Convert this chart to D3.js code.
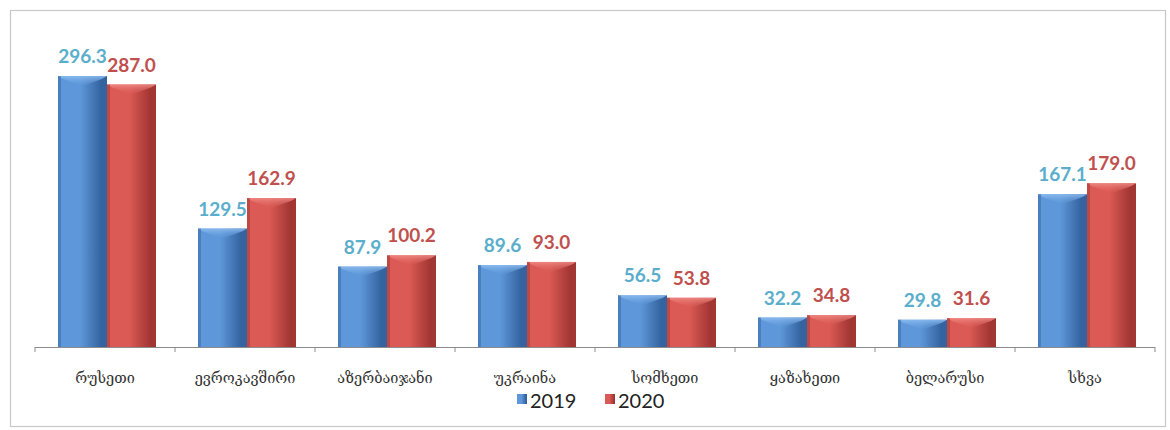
<!DOCTYPE html>
<html><head><meta charset="utf-8">
<script src="https://cdn.jsdelivr.net/npm/d3@7"></script>
<style>
html,body{margin:0;padding:0;background:#fff;}
svg{display:block;}
</style></head>
<body>
<svg id="chart" width="1170" height="430"></svg>
<script>
const categories = ["რუსეთი","ევროკავშირი","აზერბაიჯანი","უკრაინა","სომხეთი","ყაზახეთი","ბელარუსი","სხვა"];
const seriesNames = ["2019","2020"];
const values2019 = [296.3,129.5,87.9,89.6,56.5,32.2,29.8,167.1];
const values2020 = [287.0,162.9,100.2,93.0,53.8,34.8,31.6,179.0];

const W = 1170, H = 430;
const svg = d3.select("#chart");
const defs = svg.append("defs");

const palette = {
  "2019": {edge:"#3563a0", mid:"#5e98da", light:"#8dbdf0", label:"#5aaecb"},
  "2020": {edge:"#a23633", mid:"#dc5a55", light:"#f08a84", label:"#c0504d"}
};
seriesNames.forEach(s => {
  const g = defs.append("linearGradient").attr("id","g"+s).attr("x1","0").attr("x2","1").attr("y1","0").attr("y2","0");
  g.append("stop").attr("offset","0%").attr("stop-color",palette[s].mid);
  g.append("stop").attr("offset","45%").attr("stop-color",palette[s].mid);
  g.append("stop").attr("offset","88%").attr("stop-color",palette[s].edge);
  g.append("stop").attr("offset","100%").attr("stop-color",palette[s].edge);
  const v = defs.append("linearGradient").attr("id","v"+s).attr("x1","0").attr("x2","0").attr("y1","0").attr("y2","1");
  v.append("stop").attr("offset","0%").attr("stop-color",palette[s].light).attr("stop-opacity",0.9);
  v.append("stop").attr("offset","100%").attr("stop-color",palette[s].mid).attr("stop-opacity",0.2);
});

// frame
svg.append("rect").attr("x",10.5).attr("y",10.5).attr("width",1155).attr("height",416)
  .attr("fill","none").attr("stroke","#c8c8c8").attr("stroke-width",1.2);

const plotLeft = 35, plotRight = 1155, baseY = 347;
const x = d3.scaleBand().domain(categories).range([plotLeft+2, plotRight+2]).paddingInner(0.3).paddingOuter(0.15);
const xs = d3.scaleBand().domain(seriesNames).range([0, x.bandwidth()]);
const y = d3.scaleLinear().domain([0, 296.3]).range([baseY, 76]);

const data = categories.map((c,i)=>({cat:c, vals:[{s:"2019",v:values2019[i]},{s:"2020",v:values2020[i]}]}));

const groups = svg.append("g").selectAll("g").data(data).join("g")
  .attr("transform", d=>`translate(${x(d.cat)},0)`);

const bars = groups.selectAll("g.bar").data(d=>d.vals).join("g").attr("class","bar");
bars.append("rect")
  .attr("x", d=>xs(d.s)).attr("y", d=>y(d.v))
  .attr("width", xs.bandwidth()).attr("height", d=>baseY-y(d.v))
  .attr("fill", d=>`url(#g${d.s})`);
// top bevel
bars.append("path")
  .attr("d", d=>{
    const x0 = xs(d.s), w = xs.bandwidth(), t = y(d.v), b = Math.min(10, (baseY-t)/2);
    return `M${x0},${t} L${x0+w},${t} L${x0+w-5},${t+3} L${x0+w/2},${t+b} L${x0+5},${t+3} Z`;
  })
  .attr("fill", d=>`url(#v${d.s})`);
bars.append("rect")
  .attr("x", d=>xs(d.s)).attr("y", d=>y(d.v))
  .attr("width", 3).attr("height", d=>baseY-y(d.v))
  .attr("fill", d=>palette[d.s].edge).attr("opacity",0.5);

// value labels
groups.selectAll("text.val").data(d=>d.vals).join("text").attr("class","val")
  .attr("x", d=>xs(d.s)+xs.bandwidth()/2)
  .attr("y", d=>y(d.v)-13)
  .attr("text-anchor","middle")
  .attr("font-family","Lato, 'Open Sans', sans-serif")
  .attr("font-weight","bold")
  .attr("font-size",19)
  .attr("fill", d=>palette[d.s].label)
  .text(d=>d.v.toFixed(1));

// axis
const axisG = svg.append("g");
axisG.append("line").attr("x1",plotLeft).attr("x2",plotRight).attr("y1",baseY+0.5).attr("y2",baseY+0.5)
  .attr("stroke","#8c8c8c").attr("stroke-width",1.2);
const tickScale = d3.scaleLinear().domain([0, categories.length]).range([plotLeft, plotRight]);
axisG.selectAll("line.tick").data(d3.range(categories.length+1)).join("line").attr("class","tick")
  .attr("x1", d=>tickScale(d)).attr("x2", d=>tickScale(d))
  .attr("y1", baseY).attr("y2", baseY+5).attr("stroke","#8c8c8c");
axisG.selectAll("text.cat").data(categories).join("text").attr("class","cat")
  .attr("x", (d,i)=>tickScale(i+0.5)).attr("y", 383)
  .attr("text-anchor","middle")
  .attr("font-family","'DejaVu Serif', 'DejaVu Sans', serif")
  .attr("font-size",14.5)
  .attr("fill","#333")
  .text(d=>d);

// legend
const leg = svg.append("g").attr("transform","translate(517,0)");
const legItems = leg.selectAll("g").data(seriesNames).join("g")
  .attr("transform",(d,i)=>`translate(${i*88},0)`);
legItems.append("rect").attr("x",0).attr("y",394).attr("width",10).attr("height",10)
  .attr("fill", d=>`url(#g${d})`);
legItems.append("text").attr("x",13).attr("y",408)
  .attr("font-family","Lato, 'Open Sans', sans-serif").attr("font-size",20).attr("fill","#222")
  .text(d=>d);
</script>
</body></html>
